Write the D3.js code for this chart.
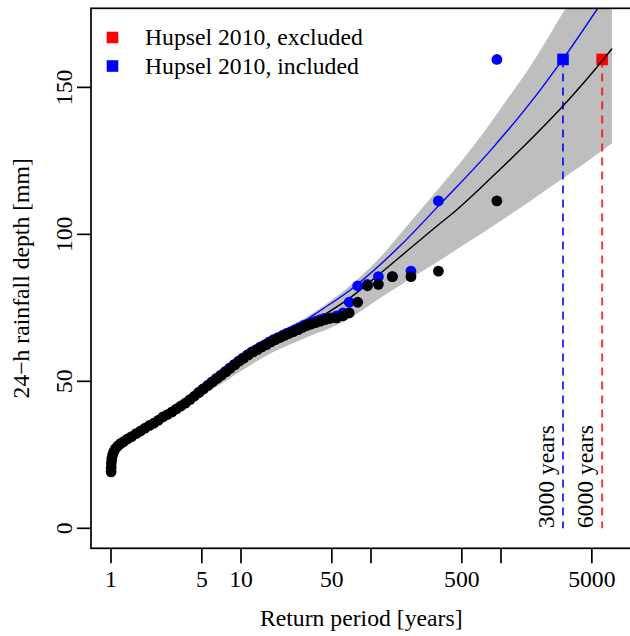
<!DOCTYPE html>
<html>
<head>
<meta charset="utf-8">
<script src="https://cdn.jsdelivr.net/npm/d3@7"></script>
<style>
  body { margin: 0; background: #fff; }
  svg text { font-family: "Liberation Serif", "Times New Roman", serif; font-size: 23.7px; fill: #000; }
</style>
</head>
<body>
<div id="chart"></div>
<script>
// empirical points, 2010 event excluded (black)
const blackT = [1.002, 1.004, 1.007, 1.014, 1.029, 1.051, 1.083, 1.128, 1.183, 1.25,
  1.34, 1.44, 1.56, 1.69, 1.83, 1.98, 2.14, 2.32, 2.51, 2.72,
  2.95, 3.19, 3.46, 3.74, 4.05, 4.39, 4.75, 5.15, 5.58, 6.04,
  6.54, 7.08, 7.67, 8.3, 8.99, 9.74, 10.5, 11.4, 12.4, 13.4,
  14.5, 15.7, 17.0, 18.4, 20.0, 21.6, 23.4, 25.3, 27.5, 29.7,
  32.2, 34.9, 37.8, 40.9, 44.3, 48.0, 54.4, 61, 68, 79,
  94, 114, 146, 203, 330, 930];
const blackMM = [19.2, 20.7, 22.2, 23.6, 24.9, 26.1, 27.1, 28.0, 28.8, 29.5,
  30.4, 31.2, 32.2, 33.1, 34.1, 35.0, 35.8, 36.8, 37.9, 38.7,
  39.6, 40.6, 41.6, 42.6, 43.8, 45.0, 46.2, 47.4, 48.6, 49.8,
  51.0, 52.1, 53.3, 54.5, 55.7, 56.9, 57.9, 59.0, 60.0, 60.8,
  61.7, 62.5, 63.4, 64.2, 64.9, 65.6, 66.3, 66.9, 67.6, 68.3,
  69.0, 69.5, 70.0, 70.5, 71.0, 71.4, 71.6, 72.3, 73.3, 76.9,
  82.5, 83.0, 85.6, 85.6, 87.5, 111.4];

// empirical points, 2010 event included (blue)
const blueT = [4.71, 5.10, 5.52, 5.97, 6.46, 6.98, 7.56, 8.17, 8.84, 9.56,
  10.3, 11.2, 12.1, 13.1, 14.1, 15.3, 16.5, 17.8, 19.2, 20.8,
  22.4, 24.2, 26.1, 28.1, 30.3, 32.7, 35.2, 37.9, 40.8, 43.9,
  49.3, 54.4, 61, 68, 79, 94, 114, 146, 203, 330, 930];
const blueMM = [46.2, 47.4, 48.6, 49.8, 51.0, 52.1, 53.3, 54.5, 55.7, 56.9,
  57.9, 59.0, 60.0, 60.8, 61.7, 62.5, 63.4, 64.2, 64.9, 65.6,
  66.3, 66.9, 67.6, 68.3, 69.0, 69.5, 70.0, 70.5, 71.0, 71.4,
  71.6, 72.3, 73.3, 76.9, 82.5, 83.0, 85.6, 85.6, 87.5, 111.4, 159.5];

// fitted curves
const fitBlackT = [2.0, 4.84, 9.82, 14.0, 19.95, 28.4, 40.5, 68.9, 117, 167, 329, 405, 848, 1400, 2985, 6124, 7150];
const fitBlackMM = [35.3, 46.8, 56.8, 60.8, 64.6, 68.0, 71.8, 78.4, 86.6, 92.3, 103.2, 106.4, 119.4, 128.7, 143.6, 159.5, 163.2];
const fitBlueT = [2.0, 4.84, 9.82, 14.0, 19.95, 28.4, 40.5, 68.9, 117, 167, 329, 848, 1995, 2985, 5546, 7150];
const fitBlueMM = [35.6, 47.2, 57.6, 61.9, 65.5, 69.4, 74.0, 81.0, 89.6, 96.0, 109.6, 129.0, 149.0, 159.5, 176.9, 184.3];

// confidence band
const bandT = [2.0, 4.84, 6.1, 9.82, 16.7, 28.4, 68.9, 117, 167, 238, 340, 484, 731, 1106, 1672, 2380, 3105, 4060, 7150];
const bandLo = [34.3, 45.3, 47.5, 53.3, 59.4, 64.0, 71.5, 78.3, 82.6, 86.9, 91.2, 95.6, 100.6, 105.9, 111.3, 116.0, 119.5, 123.1, 131.0];
const bandHi = [36.5, 48.0, 50.8, 58.8, 64.9, 70.5, 82.5, 92.0, 100.0, 108.0, 116.2, 124.3, 134.5, 145.7, 157.0, 168.0, 176.5, 184.0, 200.0];

// Hupsel 2010 event: return period
const eventT = [6000, 3000];
const eventMM = [159.5, 159.5];
const eventColors = ["red", "blue"];
const eventLabels = ["6000 years", "3000 years"];
const legendLabels = ["Hupsel 2010, excluded", "Hupsel 2010, included"];

const xTicks = [1, 5, 10, 50, 100, 500, 1000, 5000];
const xTickLabels = ["1", "5", "10", "50", "", "500", "", "5000"];
const yTicks = [0, 50, 100, 150];

const W = 630, H = 636;
const box = { left: 91, right: 631.5, top: 8.3, bottom: 548.3 };
const dotR = 5.4;

const svg = d3.select("#chart").append("svg")
  .attr("width", W).attr("height", H);

const x = d3.scaleLog().domain([0.702, 10090]).range([box.left, box.right]);
const y = d3.scaleLinear().domain([-6.8, 176.9]).range([box.bottom, box.top]);

svg.append("clipPath").attr("id", "plotclip")
  .append("rect")
  .attr("x", box.left).attr("y", box.top)
  .attr("width", box.right - box.left).attr("height", box.bottom - box.top);

const plot = svg.append("g").attr("clip-path", "url(#plotclip)");

// band
const bandData = bandT.map((t, i) => ({ t: t, lo: bandLo[i], hi: bandHi[i] }));
plot.append("path")
  .datum(bandData)
  .attr("fill", "#bebebe")
  .attr("d", d3.area()
    .x(d => x(d.t))
    .y0(d => y(d.lo))
    .y1(d => y(d.hi))
    .curve(d3.curveMonotoneX));

// dashed verticals + squares
eventT.forEach((t, i) => {
  plot.append("line")
    .attr("x1", x(t)).attr("x2", x(t))
    .attr("y1", y(eventMM[i])).attr("y2", y(0))
    .attr("stroke", eventColors[i])
    .attr("stroke-opacity", 0.8)
    .attr("stroke-width", 2)
    .attr("stroke-dasharray", "8,6");
  plot.append("rect")
    .attr("x", x(t) - 5.8).attr("y", y(eventMM[i]) - 5.8)
    .attr("width", 11.6).attr("height", 11.6)
    .attr("fill", eventColors[i]);
});

// fitted lines
const line = d3.line()
  .x(d => x(d[0]))
  .y(d => y(d[1]))
  .curve(d3.curveMonotoneX);

plot.append("path")
  .datum(fitBlueT.map((t, i) => [t, fitBlueMM[i]]))
  .attr("fill", "none").attr("stroke", "blue").attr("stroke-width", 1.4)
  .attr("d", line);

plot.append("path")
  .datum(fitBlackT.map((t, i) => [t, fitBlackMM[i]]))
  .attr("fill", "none").attr("stroke", "black").attr("stroke-width", 1.4)
  .attr("d", line);

// points
plot.append("g").selectAll("circle")
  .data(blueT.map((t, i) => [t, blueMM[i]]))
  .join("circle")
  .attr("cx", d => x(d[0])).attr("cy", d => y(d[1]))
  .attr("r", dotR).attr("fill", "blue");

plot.append("g").selectAll("circle")
  .data(blackT.map((t, i) => [t, blackMM[i]]))
  .join("circle")
  .attr("cx", d => x(d[0])).attr("cy", d => y(d[1]))
  .attr("r", dotR).attr("fill", "black");

// vertical labels at the bottom of the dashed lines
eventT.forEach((t, i) => {
  svg.append("text")
    .attr("transform", `translate(${x(t) - 9.5},${y(0)}) rotate(-90)`)
    .attr("text-anchor", "start")
    .text(eventLabels[i]);
});

// box
svg.append("rect")
  .attr("x", box.left).attr("y", box.top)
  .attr("width", box.right - box.left).attr("height", box.bottom - box.top)
  .attr("fill", "none").attr("stroke", "black").attr("stroke-width", 1.7);

// x axis
const xAxis = svg.append("g");
xTicks.forEach((t, i) => {
  xAxis.append("line")
    .attr("x1", x(t)).attr("x2", x(t))
    .attr("y1", box.bottom).attr("y2", box.bottom + 15)
    .attr("stroke", "black").attr("stroke-width", 1.7);
  xAxis.append("text")
    .attr("x", x(t)).attr("y", 586.5)
    .attr("text-anchor", "middle")
    .text(xTickLabels[i]);
});

// y axis
const yAxis = svg.append("g");
yTicks.forEach(v => {
  yAxis.append("line")
    .attr("x1", box.left - 14).attr("x2", box.left)
    .attr("y1", y(v)).attr("y2", y(v))
    .attr("stroke", "black").attr("stroke-width", 1.7);
  yAxis.append("text")
    .attr("transform", `translate(71.5,${y(v)}) rotate(-90)`)
    .attr("text-anchor", "middle")
    .text(v);
});

// axis titles
svg.append("text")
  .attr("x", (box.left + box.right) / 2).attr("y", 626)
  .attr("text-anchor", "middle")
  .text("Return period [years]");

svg.append("text")
  .attr("transform", `translate(28.5,${(box.top + box.bottom) / 2}) rotate(-90)`)
  .attr("text-anchor", "middle")
  .text("24\u2212h rainfall depth [mm]");

// legend
const legend = svg.append("g");
legendLabels.forEach((lab, i) => {
  const cy = 37.5 + i * 28.5;
  legend.append("rect")
    .attr("x", 112.5 - 5.8).attr("y", cy - 5.8)
    .attr("width", 11.6).attr("height", 11.6)
    .attr("fill", eventColors[i]);
  legend.append("text")
    .attr("x", 145).attr("y", cy + 7.5)
    .text(lab);
});
</script>
</body>
</html>
